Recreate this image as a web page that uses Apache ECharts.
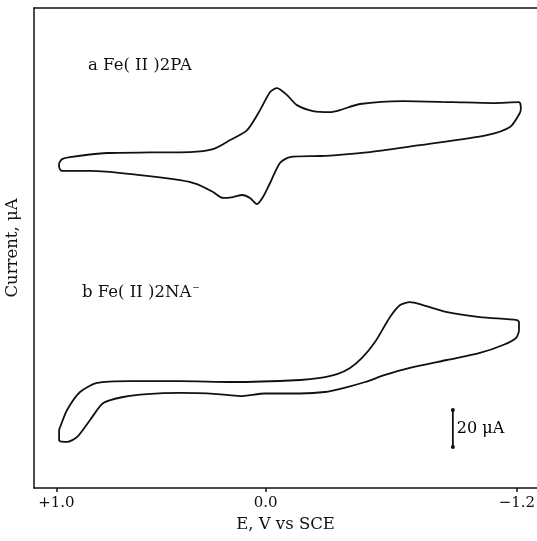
<!DOCTYPE html>
<html>
<head>
<meta charset="utf-8">
<script src="https://cdn.jsdelivr.net/npm/echarts@6/dist/echarts.min.js"></script>
<style>html,body{margin:0;padding:0;background:#fff}#c{width:537px;height:541px}</style>
</head>
<body>
<div id="c"></div>
<script>
// Potential E (V vs SCE), current (µA, offset baseline)
var xTickValues = [1.0, 0.0, -1.2];
var xTickLabels = ['+1.0', '0.0', '\u22121.2'];

var curveA = [
  [0.987,175.7],[0.973,177.8],[0.935,178.9],[0.758,181.1],[0.553,181.4],[0.362,181.6],
  [0.252,183.2],[0.170,188.1],[0.089,193.5],[0.027,204.3],[-0.021,214.1],[-0.054,216.2],
  [-0.102,212.4],[-0.149,207.0],[-0.226,203.8],[-0.307,203.2],[-0.355,204.3],[-0.450,207.6],
  [-0.656,209.2],[-0.894,208.6],[-1.085,208.1],[-1.210,208.6],[-1.219,205.4],[-1.214,202.7],
  [-1.167,195.1],[-1.057,190.8],[-0.737,185.4],[-0.498,181.6],[-0.340,180.0],[-0.259,179.5],
  [-0.116,178.9],[-0.068,175.7],[-0.021,164.9],[0.013,157.3],[0.042,153.5],[0.075,156.8],
  [0.113,158.4],[0.156,157.3],[0.204,156.8],[0.252,160.0],[0.328,164.3],[0.409,166.5],
  [0.600,169.2],[0.839,171.4],[0.973,171.4],[0.987,173.5],[0.987,175.7]
];

var curveB = [
  [0.987,25.4],[0.987,31.4],[0.982,33.0],[0.949,42.2],[0.887,51.9],[0.806,56.8],
  [0.648,57.8],[0.409,57.8],[0.156,57.3],[-0.165,58.4],[-0.260,59.5],[-0.341,61.6],
  [-0.403,64.9],[-0.460,70.3],[-0.522,78.9],[-0.594,92.4],[-0.642,98.9],[-0.689,100.5],
  [-0.751,98.9],[-0.866,95.1],[-1.023,92.4],[-1.200,90.8],[-1.210,89.7],[-1.210,85.4],
  [-1.196,81.1],[-1.134,77.3],[-1.023,73.0],[-0.866,69.2],[-0.689,64.9],[-0.570,61.1],
  [-0.475,57.3],[-0.380,54.3],[-0.283,51.9],[-0.165,51.1],[0.003,51.1],[0.123,49.7],
  [0.232,50.8],[0.409,51.4],[0.566,50.8],[0.681,49.2],[0.776,45.9],[0.839,36.8],
  [0.901,27.6],[0.949,24.9],[0.987,25.4]
];

var scaleBarE = -0.894;
var scaleBarLow = 22.2;
var scaleBarSize = 20; // µA
var scaleBarLabel = '20 \u03BCA';

var labelA = 'a Fe( II )2PA';
var labelB = 'b Fe( II )2NA';

var serif = '"DejaVu Serif", "Liberation Serif", serif';
var chart = echarts.init(document.getElementById('c'));
chart.setOption({
  animation: false,
  grid: { left: 34, right: 0, top: 8, bottom: 53, outerBoundsMode: 'none', containLabel: false },
  xAxis: [{
    type: 'value', inverse: true, min: -1.296, max: 1.107,
    name: 'E, V vs SCE', nameLocation: 'middle', nameGap: 27,
    nameTextStyle: { fontFamily: serif, fontSize: 16.5, color: '#111' },
    axisLine: { show: true, onZero: false, lineStyle: { color: '#111', width: 1.5 } },
    axisTick: { show: true, customValues: xTickValues, length: 4, lineStyle: { color: '#111', width: 1.5 } },
    axisLabel: { customValues: xTickValues, margin: 8, fontFamily: serif, fontSize: 15, color: '#111',
      formatter: function (v) { var i = xTickValues.indexOf(v); return i >= 0 ? xTickLabels[i] : ''; } },
    splitLine: { show: false }
  }, {
    type: 'value', position: 'top', inverse: true, min: -1.296, max: 1.107,
    axisLine: { show: true, onZero: false, lineStyle: { color: '#111', width: 1.5 } },
    axisTick: { show: false }, axisLabel: { show: false }, splitLine: { show: false }
  }],
  yAxis: {
    type: 'value', min: 0, max: 259.5,
    name: 'Current, \u03BCA', nameLocation: 'middle', nameGap: 13, nameRotate: 90,
    nameTextStyle: { fontFamily: serif, fontSize: 16.5, color: '#111' },
    axisLine: { show: true, onZero: false, lineStyle: { color: '#111', width: 1.5 } },
    axisTick: { show: false }, axisLabel: { show: false }, splitLine: { show: false }
  },
  series: [
    { type: 'line', data: curveA, showSymbol: false, smooth: 0.25,
      lineStyle: { color: '#111', width: 1.8 } },
    { type: 'line', data: curveB, showSymbol: false, smooth: 0.25,
      lineStyle: { color: '#111', width: 1.8 } },
    { type: 'line', data: [[scaleBarE, scaleBarLow], [scaleBarE, scaleBarLow + scaleBarSize]],
      symbol: 'circle', symbolSize: 4, itemStyle: { color: '#111' },
      lineStyle: { color: '#111', width: 1.8 } },
    { type: 'scatter', data: [[scaleBarE, scaleBarLow + scaleBarSize / 2]], symbolSize: 0,
      itemStyle: { color: '#111', opacity: 1 },
      label: { show: true, position: 'right', distance: 4, formatter: scaleBarLabel,
        fontFamily: serif, fontSize: 16, color: '#000', opacity: 1 } }
  ],
  graphic: [
    { type: 'text', left: 88, top: 57, style: { text: labelA, font: '16.5px ' + serif, fill: '#111' } },
    { type: 'text', left: 82, top: 283, style: {
        text: '{m|' + labelB + '}{s|\u2212}',
        rich: { m: { font: '16.5px ' + serif, fill: '#111' },
                s: { font: '9px ' + serif, fill: '#111', padding: [0, 0, 10, 1] } } } }
  ]
});
</script>
</body>
</html>
